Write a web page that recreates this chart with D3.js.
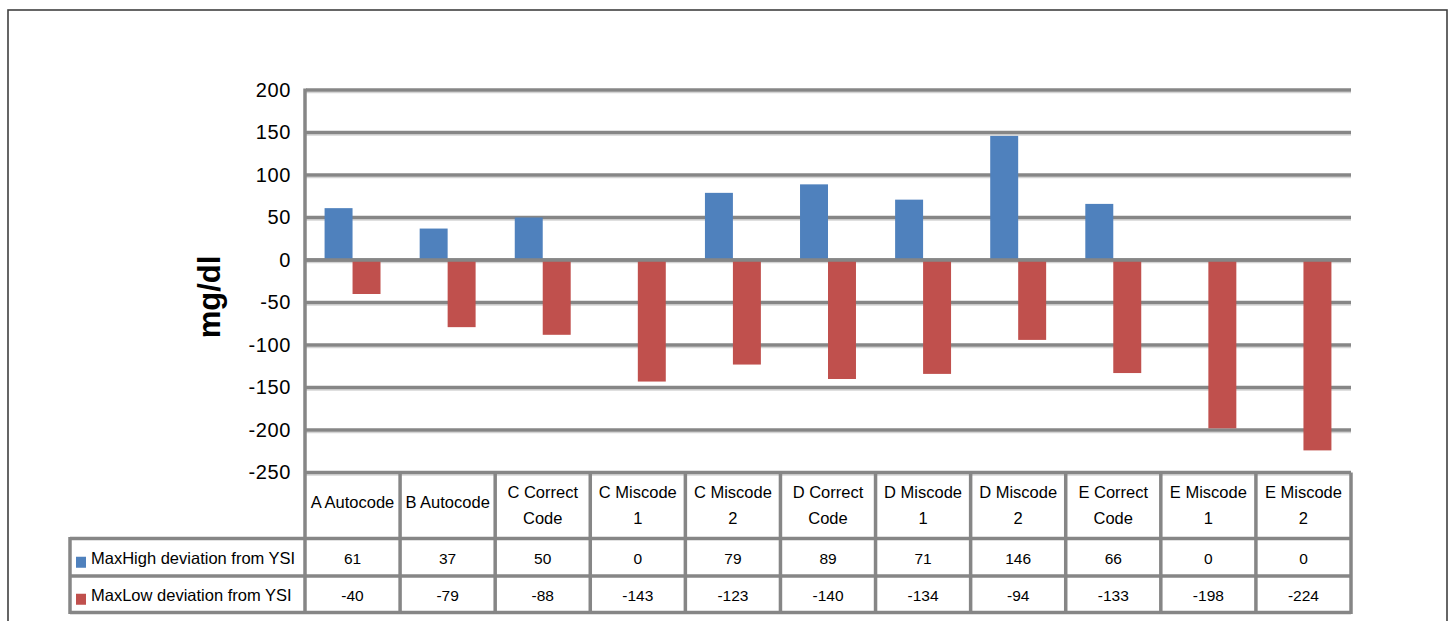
<!DOCTYPE html>
<html>
<head>
<meta charset="utf-8">
<script src="https://cdn.jsdelivr.net/npm/d3@7"></script>
<style>
  html, body { margin: 0; padding: 0; background: #fff; }
  svg { display: block; font-family: "Liberation Sans", Arial, sans-serif; }
</style>
</head>
<body>
<svg id="chart" width="1450" height="621"></svg>
<script>
// Category labels (line breaks as shown in the table header)
const categories = [
  "A Autocode", "B Autocode", "C Correct\nCode", "C Miscode\n1", "C Miscode\n2",
  "D Correct\nCode", "D Miscode\n1", "D Miscode\n2", "E Correct\nCode", "E Miscode\n1", "E Miscode\n2"
];
const seriesNames = ["MaxHigh deviation from YSI", "MaxLow deviation from YSI"];
const maxHigh = [61, 37, 50, 0, 79, 89, 71, 146, 66, 0, 0];
const maxLow = [-40, -79, -88, -143, -123, -140, -134, -94, -133, -198, -224];
const yTicks = [200, 150, 100, 50, 0, -50, -100, -150, -200, -250];
const colors = ["#4F81BD", "#C0504D"];

const svg = d3.select("#chart");
const gridColor = "#868686";

// Layout
const plotLeft = 305, plotRight = 1351;
const yTop = 90, yBottom = 472.5;
const tableLeft = 70;
const rowEdges = [472.5, 538.5, 576, 612.5];

const x = d3.scaleBand().domain(d3.range(categories.length)).range([plotLeft, plotRight]).paddingInner(0);
const xs = d3.scaleBand().domain([0, 1]).range([0, x.bandwidth()]).paddingInner(0).paddingOuter(0.7);
const y = d3.scaleLinear().domain([-250, 200]).range([yBottom, yTop]);

// Outer frame
svg.append("rect")
  .attr("x", 8).attr("y", 10).attr("width", 1439).attr("height", 700)
  .attr("fill", "none").attr("stroke", "#404040").attr("stroke-width", 1.6);

// Gridlines (with soft shadow)
const grid = svg.append("g");
grid.selectAll("line.shadow").data(yTicks).join("line")
  .attr("class", "shadow")
  .attr("x1", plotLeft + 1).attr("x2", plotRight)
  .attr("y1", d => y(d) + 2.5).attr("y2", d => y(d) + 2.5)
  .attr("stroke", "#d4d4d4").attr("stroke-width", 1.5);
grid.selectAll("line.grid").data(yTicks).join("line")
  .attr("class", "grid")
  .attr("x1", plotLeft + 1).attr("x2", plotRight)
  .attr("y1", d => y(d)).attr("y2", d => y(d))
  .attr("stroke", gridColor).attr("stroke-width", 3.5);

// Bars
const series = [maxHigh, maxLow];
series.forEach((vals, si) => {
  svg.append("g").selectAll("rect").data(vals).join("rect")
    .attr("x", (d, i) => x(i) + xs(si))
    .attr("width", xs.bandwidth())
    .attr("y", d => y(Math.max(0, d)))
    .attr("height", d => Math.abs(y(d) - y(0)))
    .attr("fill", colors[si]);
});

// Zero line on top of the bars
svg.append("line")
  .attr("x1", plotLeft).attr("x2", plotRight)
  .attr("y1", y(0)).attr("y2", y(0))
  .attr("stroke", gridColor).attr("stroke-width", 3.5);

// Y axis labels (plain hyphen for negatives)
const yAxis = d3.axisLeft(y).tickValues(yTicks).tickFormat(d => String(d)).tickSize(0).tickPadding(14);
const ya = svg.append("g").attr("transform", `translate(${plotLeft},0)`).call(yAxis);
ya.select(".domain").remove();
ya.selectAll("text")
  .attr("font-family", "'Liberation Sans', Arial, sans-serif")
  .attr("font-size", 20).attr("fill", "#000")
  .attr("letter-spacing", 0.6);

// Y axis title
svg.append("text")
  .attr("transform", `translate(220,297) rotate(-90)`)
  .attr("text-anchor", "middle")
  .attr("font-size", 31).attr("font-weight", "bold").attr("fill", "#000")
  .text("mg/dl");

// Data table
const table = svg.append("g");
const lineStyle = sel => sel.attr("stroke", gridColor).attr("stroke-width", 3.5);

// horizontal lines
[1, 2, 3].forEach(r => {
  table.append("line").attr("x1", tableLeft).attr("x2", plotRight)
    .attr("y1", rowEdges[r]).attr("y2", rowEdges[r]).call(lineStyle);
});
// vertical lines
const colEdges = d3.range(categories.length + 1).map(i => i < categories.length ? x(i) : plotRight);
table.selectAll("line.col").data(colEdges).join("line")
  .attr("class", "col")
  .attr("x1", d => d).attr("x2", d => d)
  .attr("y1", (d, i) => i === 0 ? yTop - 1.5 : rowEdges[0])
  .attr("y2", rowEdges[3] + 1.5)
  .call(lineStyle);
table.append("line").attr("x1", tableLeft).attr("x2", tableLeft)
  .attr("y1", rowEdges[1] - 1.5).attr("y2", rowEdges[3] + 1.5).call(lineStyle);

// category header
const headMid = (rowEdges[0] + rowEdges[1]) / 2;
categories.forEach((c, i) => {
  const lines = c.split("\n");
  const t = table.append("text")
    .attr("text-anchor", "middle").attr("font-size", 16.5).attr("fill", "#000");
  const cx = x(i) + x.bandwidth() / 2;
  if (lines.length === 1) {
    t.append("tspan").attr("x", cx).attr("y", headMid + 2.5).text(lines[0]);
  } else {
    t.append("tspan").attr("x", cx).attr("y", headMid - 8).text(lines[0]);
    t.append("tspan").attr("x", cx).attr("y", headMid + 18).text(lines[1]);
  }
});

// value rows with legend keys
series.forEach((vals, si) => {
  const mid = (rowEdges[si + 1] + rowEdges[si + 2]) / 2;
  table.append("rect")
    .attr("x", 76).attr("y", mid - 0.5).attr("width", 10).attr("height", 11)
    .attr("fill", colors[si]);
  table.append("text")
    .attr("x", 91).attr("y", mid + 7)
    .attr("font-size", 16.5).attr("fill", "#000")
    .text(seriesNames[si]);
  table.append("g").selectAll("text").data(vals).join("text")
    .attr("x", (d, i) => x(i) + x.bandwidth() / 2)
    .attr("y", mid + 7)
    .attr("text-anchor", "middle").attr("font-size", 15.5).attr("fill", "#000")
    .text(d => d);
});
</script>
</body>
</html>
